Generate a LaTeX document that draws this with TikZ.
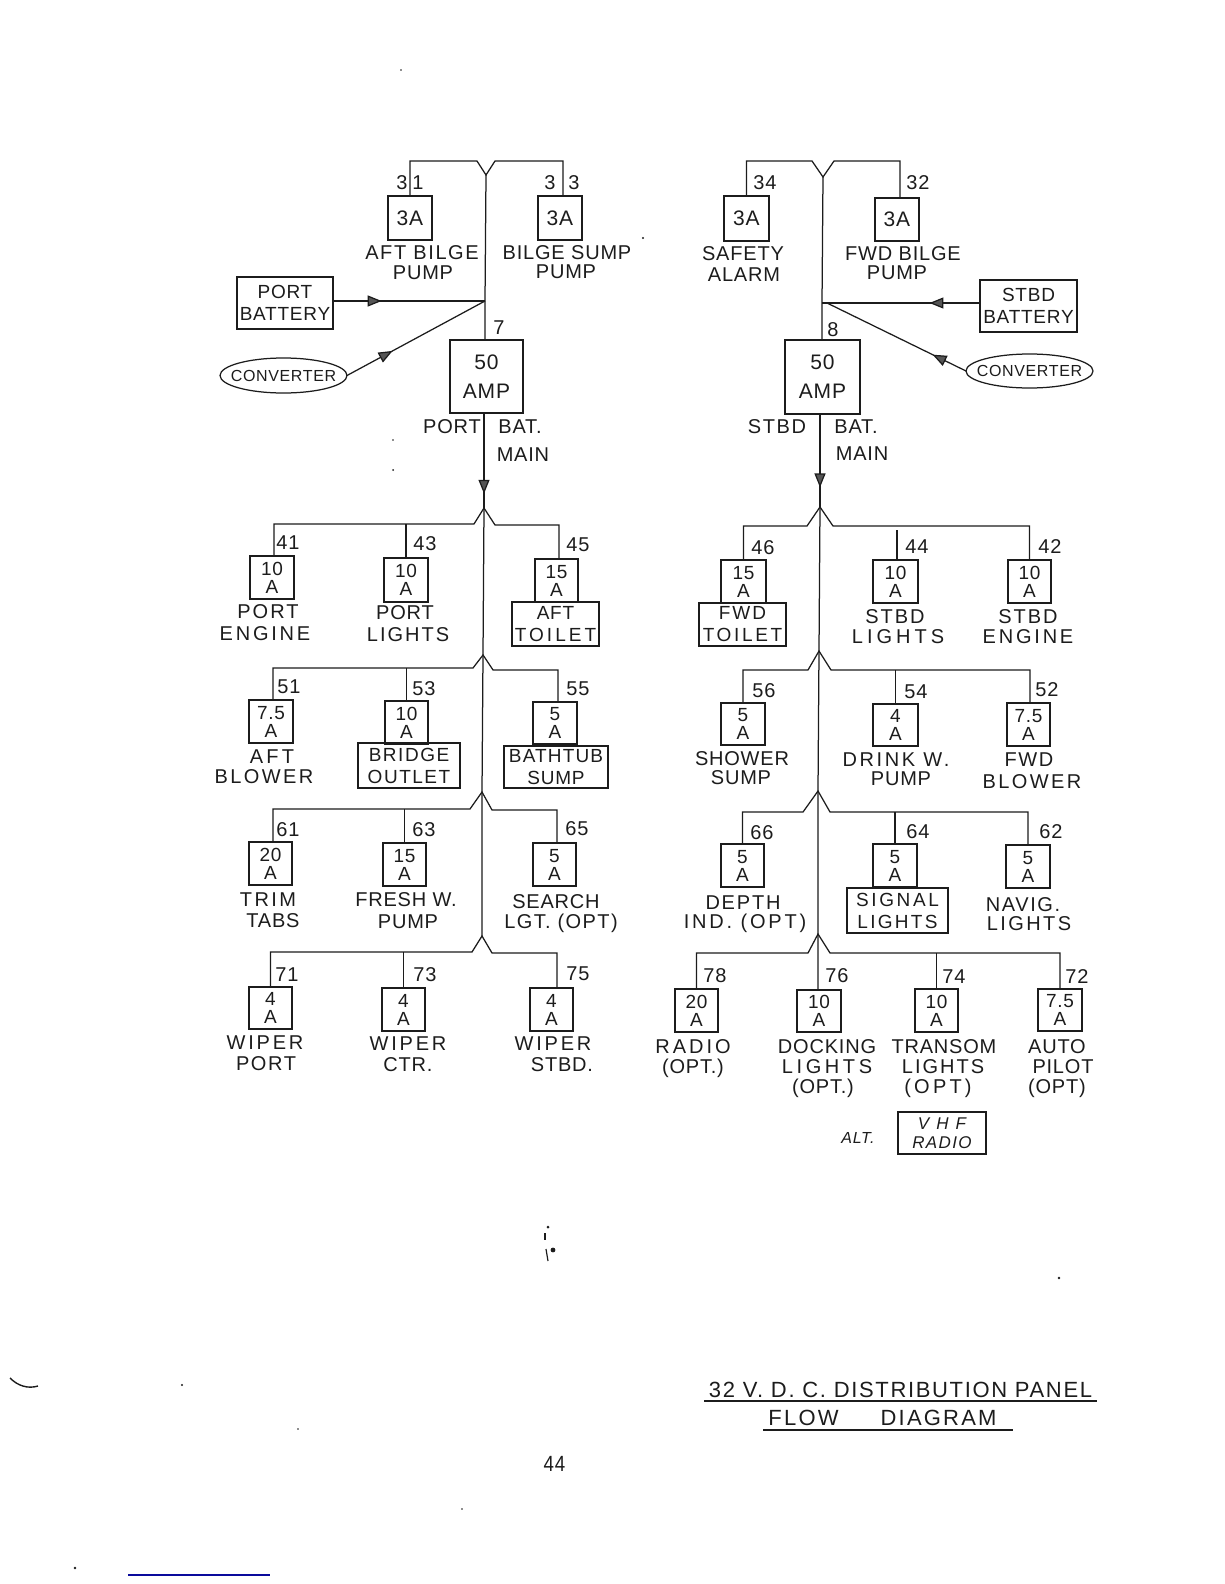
\documentclass[tikz,border=0pt]{standalone}
\usepackage{fontspec}
\setmainfont[LetterSpace=4]{Liberation Sans}
\usetikzlibrary{shapes.geometric,arrows.meta,decorations.markings}
\definecolor{ink}{HTML}{1C1C1C}
\definecolor{tipgray}{HTML}{555555}
\definecolor{bluerule}{HTML}{0A0A9C}
\newcommand{\trk}[2]{{\addfontfeatures{LetterSpace=#1}#2}}
\tikzset{
  wire/.style={draw=ink,line width=1.25pt,line join=miter},
  fuse/.style={draw=ink,line width=1.25pt,rectangle,inner sep=0pt,outer sep=0pt,align=center,text=ink,font=\fontsize{19}{18}\selectfont},
  fusethree/.style={fuse,font=\fontsize{21}{24}\selectfont},
  mainfuse/.style={fuse,font=\fontsize{21}{29}\selectfont},
  loadbox/.style={fuse,font=\fontsize{19}{22}\selectfont},
  oval/.style={draw=ink,line width=1.25pt,ellipse,inner sep=0pt,outer sep=0pt,text=ink,font=\fontsize{16}{20}\selectfont},
  lab/.style={inner sep=0pt,text=ink,font=\fontsize{20}{22}\selectfont},
  num/.style={inner sep=0pt,text=ink,font=\fontsize{20}{20}\selectfont},
  ttl/.style={inner sep=0pt,text=ink,font=\fontsize{22}{24}\selectfont},
  headat/.style={postaction={decorate},decoration={markings,mark=at position #1 with {\arrow{Triangle[length=14pt,width=11pt,fill=tipgray,color=ink]}}}},
  speck/.style={fill=ink,draw=none}
}
\begin{document}
\begin{tikzpicture}[x=1pt,y=-1pt]
\useasboundingbox (0,0) rectangle (1224,1584);

% ---------- top fuses
\node[fusethree,minimum width=44pt,minimum height=44pt] (f31) at (410,218) {3A};
\node[fusethree,minimum width=44pt,minimum height=44pt] (f33) at (560,218) {3A};
\node[fusethree,minimum width=45pt,minimum height=45pt] (f34) at (746.5,218.5) {3A};
\node[fusethree,minimum width=44pt,minimum height=43pt] (f32) at (897,219.5) {3A};

% ---------- main breakers
\node[mainfuse,minimum width=73pt,minimum height=73pt] (mp) at (486.5,376.5) {50\\AMP};
\node[mainfuse,minimum width=75pt,minimum height=74pt] (ms) at (822.5,377) {50\\AMP};

% ---------- sources
\node[loadbox,minimum width=96pt,minimum height=52pt] (pb) at (285,303) {PORT\\BATTERY};
\node[loadbox,minimum width=97pt,minimum height=52pt] (sb) at (1028.5,306) {STBD\\BATTERY};
\node[oval,minimum width=127pt,minimum height=35pt] (pc) at (283.5,375.5) {\makebox[0pt][c]{\smash{\raisebox{-.36em}{CONVERTER}}}};
\node[oval,minimum width=127pt,minimum height=34pt] (sc) at (1029.5,371) {\makebox[0pt][c]{\smash{\raisebox{-.36em}{CONVERTER}}}};

% ---------- port fuses
\node[fuse,minimum width=44pt,minimum height=43pt] (f41) at (272,577.5) {10\\A};
\node[fuse,minimum width=44pt,minimum height=44pt] (f43) at (406,580) {10\\A};
\node[fuse,minimum width=43pt,minimum height=43pt] (f45) at (556.5,580.5) {15\\A};
\node[fuse,minimum width=44pt,minimum height=43pt] (f51) at (271,721.5) {7.5\\A};
\node[fuse,minimum width=43pt,minimum height=43pt] (f53) at (406.5,722.5) {10\\A};
\node[fuse,minimum width=44pt,minimum height=42pt] (f55) at (555,723) {5\\A};
\node[fuse,minimum width=43pt,minimum height=43pt] (f61) at (270.5,863.5) {20\\A};
\node[fuse,minimum width=43pt,minimum height=43pt] (f63) at (404.5,864.5) {15\\A};
\node[fuse,minimum width=43pt,minimum height=43pt] (f65) at (554.5,864.5) {5\\A};
\node[fuse,minimum width=43pt,minimum height=42pt] (f71) at (270.5,1008) {4\\A};
\node[fuse,minimum width=43pt,minimum height=43pt] (f73) at (403.5,1009.5) {4\\A};
\node[fuse,minimum width=43pt,minimum height=43pt] (f75) at (551.5,1009.5) {4\\A};

% ---------- stbd fuses
\node[fuse,minimum width=45pt,minimum height=43pt] (f46) at (743.5,581.5) {15\\A};
\node[fuse,minimum width=45pt,minimum height=43pt] (f44) at (895.5,581.5) {10\\A};
\node[fuse,minimum width=43pt,minimum height=43pt] (f42) at (1029.5,581.5) {10\\A};
\node[fuse,minimum width=44pt,minimum height=42pt] (f56) at (743,724) {5\\A};
\node[fuse,minimum width=45pt,minimum height=42pt] (f54) at (895.5,725) {4\\A};
\node[fuse,minimum width=43pt,minimum height=43pt] (f52) at (1028.5,724.5) {7.5\\A};
\node[fuse,minimum width=43pt,minimum height=43pt] (f66) at (742.5,865.5) {5\\A};
\node[fuse,minimum width=44pt,minimum height=43pt] (f64) at (895,865.5) {5\\A};
\node[fuse,minimum width=44pt,minimum height=43pt] (f62) at (1028,866.5) {5\\A};
\node[fuse,minimum width=43pt,minimum height=43pt] (f78) at (696.5,1010.5) {20\\A};
\node[fuse,minimum width=44pt,minimum height=42pt] (f76) at (819,1011) {10\\A};
\node[fuse,minimum width=43pt,minimum height=43pt] (f74) at (936.5,1010.5) {10\\A};
\node[fuse,minimum width=44pt,minimum height=42pt] (f72) at (1060,1010) {7.5\\A};

% ---------- boxed loads
\node[loadbox,minimum width=87pt,minimum height=44pt] (tp) at (555.5,624) {AFT\\\trk{16}{TOILET}};
\node[loadbox,minimum width=102pt,minimum height=45pt] (bo) at (409,765.5) {\trk{8}{BRIDGE}\\\trk{8}{OUTLET}};
\node[loadbox,minimum width=104pt,minimum height=42pt] (bs) at (556,767) {\trk{6}{BATHTUB}\\SUMP};
\node[loadbox,minimum width=87pt,minimum height=43pt] (tf) at (742.5,624.5) {\trk{10}{FWD}\\\trk{14}{TOILET}};
\node[loadbox,minimum width=101pt,minimum height=45pt] (sl) at (897.5,910.5) {\trk{14}{SIGNAL}\\\trk{12}{LIGHTS}};
\node[fuse,font=\fontsize{17}{19}\selectfont\itshape,minimum width=88pt,minimum height=42pt] (vhf) at (942,1133) {\trk{14}{V H F}\\\trk{8}{RADIO}};

% ---------- named wire points, port side
\coordinate (pyl) at (477,161); \coordinate (pyb) at (486,175); \coordinate (pyr) at (495,161);
\coordinate (pj) at (485,301); \coordinate (pjc) at (485,301);
\coordinate (pa1) at (484,508); \coordinate (pl1) at (474,524); \coordinate (pr1) at (495,525);
\coordinate (pa2) at (483,655); \coordinate (pl2) at (473,668); \coordinate (pr2) at (493,670);
\coordinate (pa3) at (482,792); \coordinate (pl3) at (470,809); \coordinate (pr3) at (492,810);
\coordinate (pa4) at (482,936); \coordinate (pl4) at (472,952); \coordinate (pr4) at (492,953);
% ---------- named wire points, stbd side
\coordinate (syl) at (812,161); \coordinate (syb) at (823,177); \coordinate (syr) at (834,161);
\coordinate (sj) at (822,303); \coordinate (sjc) at (827,303);
\coordinate (sa1) at (820,507); \coordinate (sl1) at (807,526); \coordinate (sr1) at (833,526);
\coordinate (sa2) at (819,651); \coordinate (sl2) at (808,670); \coordinate (sr2) at (831,670);
\coordinate (sa3) at (818,791); \coordinate (sl3) at (803,812); \coordinate (sr3) at (830,812);
\coordinate (sa4) at (818,934); \coordinate (sl4) at (808,953); \coordinate (sr4) at (830,953);
\coordinate (s44) at (897,530);

% ---------- top buses
\draw[wire] (f31.north) |- (pyl) -- (pyb) -- (pyr) -| ([xshift=3pt]f33.north);
\draw[wire] (f34.north) |- (syl) -- (syb) -- (syr) -| ([xshift=3pt]f32.north);
\draw[wire] (pyb) -- (pj) -- (mp.north -| pj);
\draw[wire] (syb) -- (sj) -- (ms.north -| sj);

% ---------- sources to junctions
\draw[wire,headat=0.32] (pb.east |- pj) -- (pj);
\draw[wire,headat=0.33] (pc.east) -- (pjc);
\draw[wire,headat=0.32] (sb.west |- sj) -- (sj);
\draw[wire,headat=0.24] (sc.west) -- (sjc);

% ---------- main feeds
\draw[wire,headat=0.85] (mp.south -| pa1) -- (pa1);
\draw[wire,headat=0.79] (ms.south -| sa1) -- (sa1);
\draw[wire] (pa1) -- (pa2) -- (pa3) -- (pa4);
\draw[wire] (sa1) -- (sa2) -- (sa3) -- (sa4) -- (f76.north -| sa4);

% ---------- port rows
\draw[wire] ([xshift=2pt]f41.north) |- (pl1) -- (pa1) -- (pr1) -| ([xshift=2.5pt]f45.north);
\draw[wire] (f43.north) -- (f43.north |- pl1);
\draw[wire] ([xshift=2pt]f51.north) |- (pl2) -- (pa2) -- (pr2) -| ([xshift=3pt]f55.north);
\draw[wire] (f53.north) -- (f53.north |- pl2);
\draw[wire] ([xshift=2.5pt]f61.north) |- (pl3) -- (pa3) -- (pr3) -| ([xshift=2.5pt]f65.north);
\draw[wire] (f63.north) -- (f63.north |- pl3);
\draw[wire] (f71.north) |- (pl4) -- (pa4) -- (pr4) -| ([xshift=5.5pt]f75.north);
\draw[wire] (f73.north) -- (f73.north |- pl4);

% ---------- stbd rows
\draw[wire] (f46.north) |- (sl1) -- (sa1) -- (sr1) -| (f42.north);
\draw[wire] ([xshift=1.5pt]f44.north) -- (s44);
\draw[wire] (f56.north) |- (sl2) -- (sa2) -- (sr2) -| ([xshift=1.5pt]f52.north);
\draw[wire] (f54.north) -- (f54.north |- sl2);
\draw[wire] (f66.north) |- (sl3) -- (sa3) -- (sr3) -| (f62.north);
\draw[wire] (f64.north) -- (f64.north |- sl3);
\draw[wire] (f78.north) |- (sl4) -- (sa4) -- (sr4) -| (f72.north);
\draw[wire] (f74.north) -- (f74.north |- sr4);

% ---------- labels
\foreach \x/\y/\t [count=\i] in {
 422/253/{\trk{8}{AFT BILGE}}, 423/273/{PUMP}, 567/253/{BILGE SUMP}, 566/272/{PUMP},
 743/254/{SAFETY}, 744/275/{ALARM}, 903/254/{FWD BILGE}, 897/273/{PUMP},
 452/427/{PORT}, 520/427/{BAT.}, 523/455/{MAIN}, 777/427/{\trk{8}{STBD}}, 856/427/{BAT.}, 862/454/{MAIN},
 268/612/{\trk{10}{PORT}}, 265/634/{\trk{14}{ENGINE}}, 405/613/{PORT}, 408/635/{\trk{10}{LIGHTS}},
 272/757/{\trk{16}{AFT}}, 264/777/{\trk{12}{BLOWER}},
 268/900/{\trk{12}{TRIM}}, 273/921/{TABS}, 406/900/{FRESH W.}, 408/922/{PUMP}, 556/902/{SEARCH}, 561/923/{\trk{7}{LGT. (OPT)}},
 265/1043/{\trk{14}{WIPER}}, 266/1064/{\trk{8}{PORT}}, 408/1044/{\trk{14}{WIPER}}, 408/1065/{CTR.}, 553/1044/{\trk{14}{WIPER}}, 562/1065/{STBD.},
 895/617/{\trk{10}{STBD}}, 898/637/{\trk{20}{LIGHTS}}, 1028/617/{\trk{10}{STBD}}, 1028/637/{\trk{14}{ENGINE}},
 742/759/{SHOWER}, 741/778/{SUMP}, 896/760/{\trk{13}{DRINK W.}}, 901/779/{PUMP}, 1029/760/{\trk{8}{FWD}}, 1032/782/{\trk{12}{BLOWER}},
 743/903/{\trk{9}{DEPTH}}, 745/923/{\trk{14}{IND. (OPT)}}, 1023/905/{\trk{8}{NAVIG.}}, 1029/924/{\trk{12}{LIGHTS}},
 693/1047/{\trk{15}{RADIO}}, 693/1068/{(OPT.)}, 827/1047/{DOCKING}, 827/1067/{\trk{18}{LIGHTS}}, 823/1088/{(OPT.)},
 944/1047/{TRANSOM}, 943/1067/{\trk{10}{LIGHTS}}, 938/1088/{\trk{16}{(OPT)}}, 1057/1047/{AUTO}, 1063/1067/{PILOT}, 1057/1088/{(OPT)}
}{ \node[lab] (lab\i) at (\x,\y) {\t}; }

\node[lab,font=\fontsize{16}{18}\selectfont\itshape] (altlab) at (858,1138) {ALT.};

% ---------- wire numbers
\foreach \x/\y/\t [count=\i] in {
 402/183/3, 418/183/1, 550/183/3, 574/183/3, 765/183/34, 918/183/32,
 499/328/7, 833/330/8,
 288/543/41, 425/544/43, 578/545/45, 763/548/46, 917/547/44, 1050/547/42,
 289/687/51, 424/689/53, 578/689/55, 764/691/56, 916/692/54, 1047/690/52,
 288/830/61, 424/830/63, 577/829/65, 762/833/66, 918/832/64, 1051/832/62,
 287/975/71, 425/975/73, 578/974/75, 715/976/78, 837/976/76, 954/977/74, 1077/977/72
}{ \node[num] (num\i) at (\x,\y) {\t}; }

% ---------- title
\node[ttl] (t1) at (900.5,1390) {\trk{7.5}{32 V. D. C. DISTRIBUTION PANEL}};
\node[ttl] (t2) at (882.5,1418) {\trk{10}{FLOW}\hspace{42pt}\trk{10}{DIAGRAM}};
\coordinate (u1a) at (704,1401); \coordinate (u1b) at (1097,1401);
\coordinate (u2a) at (763,1430); \coordinate (u2b) at (1013,1430);
\draw[wire] (u1a) -- (u1b);
\draw[wire] (u2a) -- (u2b);

% ---------- page number
\node[inner sep=0pt,text=ink,font=\fontsize{22}{24}\selectfont] (pageno) at (554.5,1464) {\scalebox{.85}[1]{44}};

% ---------- marks on the scan
\coordinate (blueA) at (128,1575); \coordinate (blueB) at (270,1575);
\draw[bluerule,line width=1.2pt] (blueA) -- (blueB);
\coordinate (smA) at (10,1378); \coordinate (smB) at (38,1386);
\draw[ink,line width=1.4pt] (smA) .. controls (18,1386) and (28,1389) .. (smB);
\coordinate (mkA) at (545,1233); \coordinate (mkB) at (545,1240);
\coordinate (mkC) at (546,1249); \coordinate (mkD) at (548,1261);
\draw[ink,line width=1.4pt] (mkA) -- (mkB);
\draw[ink,line width=1.2pt] (mkC) -- (mkD);
\foreach \x/\y/\r in {548/1227/1.5, 553/1250/2.4, 75/1568/1.4, 182/1385/1.2, 298/1429/.8, 462/1509/.9, 1059/1278/1.3, 401/70/.8, 643/238/1.2, 393/470/1, 393/440/.8}{
  \fill[speck] (\x,\y) circle (\r pt);
}
\end{tikzpicture}
\end{document}
